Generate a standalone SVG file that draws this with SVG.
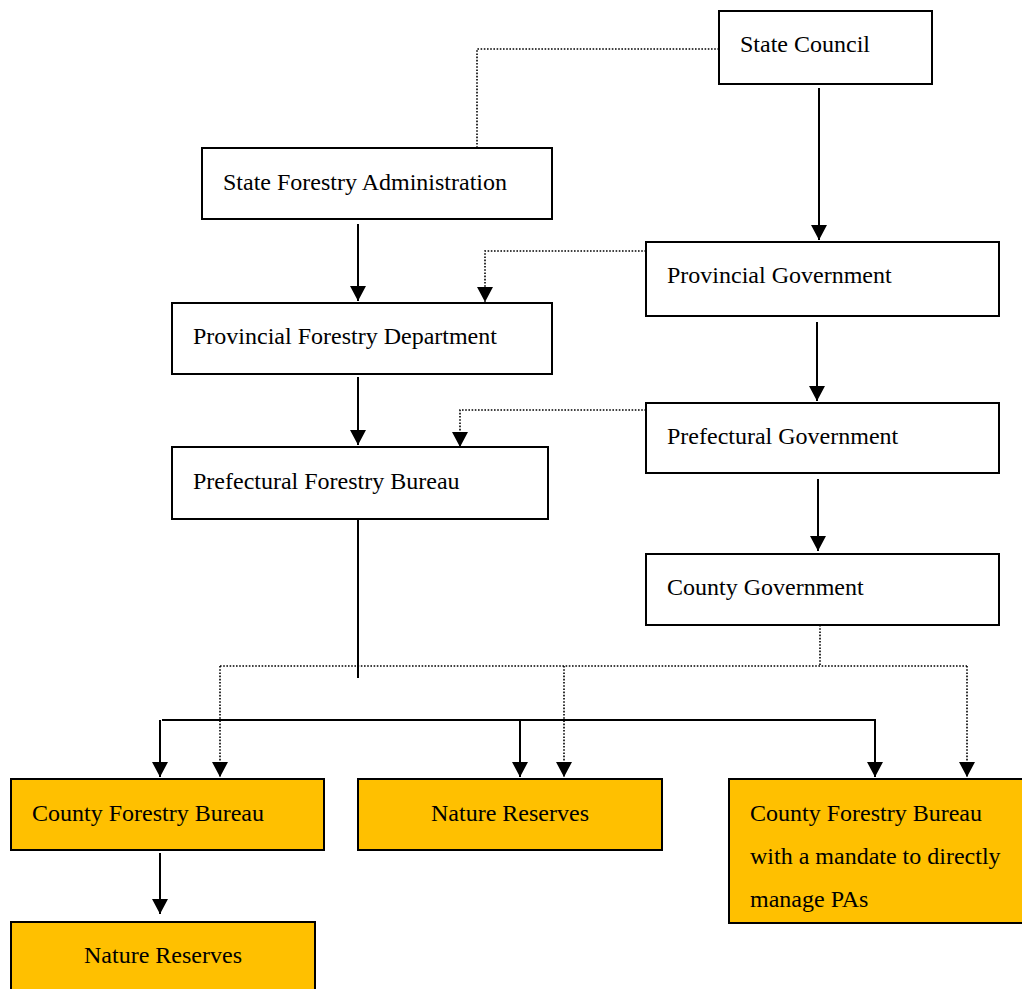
<svg xmlns="http://www.w3.org/2000/svg" width="1022" height="989" viewBox="0 0 1022 989">
<defs>
<marker id="ah" markerUnits="userSpaceOnUse" markerWidth="15" markerHeight="16" viewBox="0 0 15 16" refX="15" refY="8" orient="auto">
<path d="M0,0 L15,8 L0,16 z" fill="#000"/>
</marker>
</defs>
<style>
.box{fill:#fff;stroke:#000;stroke-width:2}
.gold{fill:#FFC000;stroke:#000;stroke-width:2}
.t{font-family:"Liberation Serif","Times New Roman",serif;font-size:24px;fill:#000}
.s{fill:none;stroke:#000;stroke-width:2}
.d{fill:none;stroke:#000;stroke-width:1.6;stroke-dasharray:1.6 1.6}
</style>
<rect width="1022" height="989" fill="#fff"/>
<g id="connectors">
<path class="d" d="M719,49 H477 V148"/>
<path class="s" d="M819,88 V240" marker-end="url(#ah)"/>
<path class="s" d="M358,224 V301" marker-end="url(#ah)"/>
<path class="d" d="M646,251 H485 V302" marker-end="url(#ah)"/>
<path class="s" d="M817,322 V401" marker-end="url(#ah)"/>
<path class="s" d="M358,377 V445" marker-end="url(#ah)"/>
<path class="d" d="M646,410 H460 V447" marker-end="url(#ah)"/>
<path class="s" d="M818,479 V551" marker-end="url(#ah)"/>
<path class="s" d="M358,519 V678"/>
<path class="d" d="M820,625 V666 M220,666 H967"/>
<path class="d" d="M220,666 V777" marker-end="url(#ah)"/>
<path class="d" d="M564,666 V777" marker-end="url(#ah)"/>
<path class="d" d="M967,666 V777" marker-end="url(#ah)"/>
<path class="s" d="M162,720 H876"/>
<path class="s" d="M160,720 V777" marker-end="url(#ah)"/>
<path class="s" d="M520,720 V777" marker-end="url(#ah)"/>
<path class="s" d="M875,720 V777" marker-end="url(#ah)"/>
<path class="s" d="M160,853 V914" marker-end="url(#ah)"/>
</g>
<g id="state-council">
<rect class="box" x="719" y="11" width="213" height="73"/>
<text class="t" x="740" y="52">State Council</text>
</g>
<g id="state-forestry-administration">
<rect class="box" x="202" y="148" width="350" height="71"/>
<text class="t" x="223" y="190">State Forestry Administration</text>
</g>
<g id="provincial-government">
<rect class="box" x="646" y="242" width="353" height="74"/>
<text class="t" x="667" y="283">Provincial Government</text>
</g>
<g id="provincial-forestry-department">
<rect class="box" x="172" y="303" width="380" height="71"/>
<text class="t" x="193" y="344">Provincial Forestry Department</text>
</g>
<g id="prefectural-government">
<rect class="box" x="646" y="403" width="353" height="70"/>
<text class="t" x="667" y="444">Prefectural Government</text>
</g>
<g id="prefectural-forestry-bureau">
<rect class="box" x="172" y="447" width="376" height="72"/>
<text class="t" x="193" y="489">Prefectural Forestry Bureau</text>
</g>
<g id="county-government">
<rect class="box" x="646" y="554" width="353" height="71"/>
<text class="t" x="667" y="595">County Government</text>
</g>
<g id="county-forestry-bureau">
<rect class="gold" x="11" y="779" width="313" height="71"/>
<text class="t" x="32" y="821">County Forestry Bureau</text>
</g>
<g id="nature-reserves-middle">
<rect class="gold" x="358" y="779" width="304" height="71"/>
<text class="t" x="510" y="821" text-anchor="middle">Nature Reserves</text>
</g>
<g id="county-forestry-bureau-pa">
<rect class="gold" x="729" y="779" width="300" height="144"/>
<text class="t" x="750" y="821">County Forestry Bureau</text>
<text class="t" x="750" y="864">with a mandate to directly</text>
<text class="t" x="750" y="907">manage PAs</text>
</g>
<g id="nature-reserves-bottom">
<rect class="gold" x="11" y="922" width="304" height="80"/>
<text class="t" x="163" y="963" text-anchor="middle">Nature Reserves</text>
</g>
</svg>
